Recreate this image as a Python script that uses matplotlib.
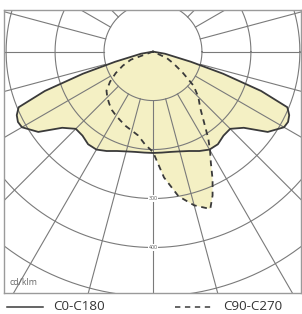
import numpy as np
import matplotlib
matplotlib.use("Agg")
import matplotlib.pyplot as plt

plt.rcParams['font.family'] = ['Open Sans', 'DejaVu Sans']

# ---- data (cd/klm) ----
# C0-C180 (symmetric), gamma angles in degrees from nadir
c0_gamma = [0, 5, 10, 15, 20, 25, 30, 35, 40, 45, 50, 55, 60, 62.5, 65, 67.5, 70, 72.5, 75, 80, 85]
c0_value = [207, 207, 208, 211, 216, 224, 231, 231, 224, 223, 242, 286, 309, 311, 307, 297, 235, 150, 80, 25, 0]

# C90 (right side) and C270 (left side)
c90_gamma = [0, 5, 10, 15, 20, 22.5, 25, 27.5, 30, 32.5, 35, 40, 45, 50, 55, 60, 65, 70]
c90_value = [207, 258, 300, 325, 342, 318, 288, 256, 233, 210, 185, 150, 131, 108, 73, 48, 31, 0]
c270_gamma = [0, 5, 10, 15, 20, 25, 30, 35, 40, 45, 50, 55, 60, 65, 70, 75]
c270_value = [205, 190, 174, 167, 162, 156, 151, 146, 139, 132, 124, 107, 88, 68, 48, 0]

ring_values = [100, 200, 300, 400, 500, 600]
ring_labels = ["300", "400"]
legend_labels = ["C0-C180", "C90-C270"]
unit_label = "cd/klm"


def to_xy(gamma, value, side):
    g = np.radians(np.asarray(gamma, dtype=float))
    v = np.asarray(value, dtype=float)
    return side * v * np.sin(g), -v * np.cos(g)


fig = plt.figure(figsize=(3.02, 3.14), dpi=100)
ax = fig.add_axes([4 / 302, (314 - 293) / 314, 297 / 302, 283 / 314])
ax.set_xlim(-304, 302)
ax.set_ylim(-493, 85)
ax.set_aspect('equal', adjustable='box')
ax.set_xticks([])
ax.set_yticks([])
for s in ax.spines.values():
    s.set_color('#9a9a9a')
    s.set_linewidth(1.0)

fill_col = '#f4f0c4'
line_col = '#3a3a3a'
grid_col = '#7a7a7a'

# C0-C180 curve (closed, symmetric)
xl, yl = to_xy(c0_gamma, c0_value, -1)
xr, yr = to_xy(c0_gamma, c0_value, 1)
x_c0 = np.concatenate([xl[::-1], xr[1:]])
y_c0 = np.concatenate([yl[::-1], yr[1:]])

# C90-C270 curve
xl2, yl2 = to_xy(c270_gamma, c270_value, -1)
xr2, yr2 = to_xy(c90_gamma, c90_value, 1)
x_c90 = np.concatenate([xl2[::-1], xr2[1:]])
y_c90 = np.concatenate([yl2[::-1], yr2[1:]])

ax.fill(x_c0, y_c0, color=fill_col, zorder=1, lw=0)
ax.fill(x_c90, y_c90, color=fill_col, zorder=1, lw=0)

# grid
t = np.linspace(0, 2 * np.pi, 400)
for r in ring_values:
    ax.plot(r * np.cos(t), r * np.sin(t), color=grid_col, lw=0.8, zorder=2)
for a in range(0, 360, 15):
    ar = np.radians(a)
    ax.plot([100 * np.sin(ar), 800 * np.sin(ar)], [-100 * np.cos(ar), -800 * np.cos(ar)],
            color=grid_col, lw=0.8, zorder=2)

for lab in ring_labels:
    ax.text(0, -float(lab), lab, ha='center', va='center', fontsize=3.8, color='#555555',
            bbox=dict(facecolor='white', edgecolor='none', pad=0.6), zorder=3)

ax.plot(x_c0, y_c0, color=line_col, lw=1.3, zorder=4, solid_joinstyle='round')
ax.plot(x_c90, y_c90, color=line_col, lw=1.3, ls=(0, (3.2, 2.6)), zorder=4)

ax.text(0.018, 0.022, unit_label, transform=ax.transAxes, fontsize=6.3, color='#666666',
        ha='left', va='bottom')

# legend
fig.add_artist(plt.Line2D([7 / 302, 43 / 302], [1 - 306.5 / 314] * 2, color=line_col, lw=1.1))
fig.text(53 / 302, 1 - 306 / 314, legend_labels[0], fontsize=9.6, color='#333333', ha='left', va='center')
fig.add_artist(plt.Line2D([175 / 302, 212 / 302], [1 - 306.5 / 314] * 2, color=line_col, lw=1.1,
                          ls=(0, (3.5, 3.0))))
fig.text(223 / 302, 1 - 306 / 314, legend_labels[1], fontsize=9.6, color='#333333', ha='left', va='center')

fig.savefig('out.png', dpi=100)
